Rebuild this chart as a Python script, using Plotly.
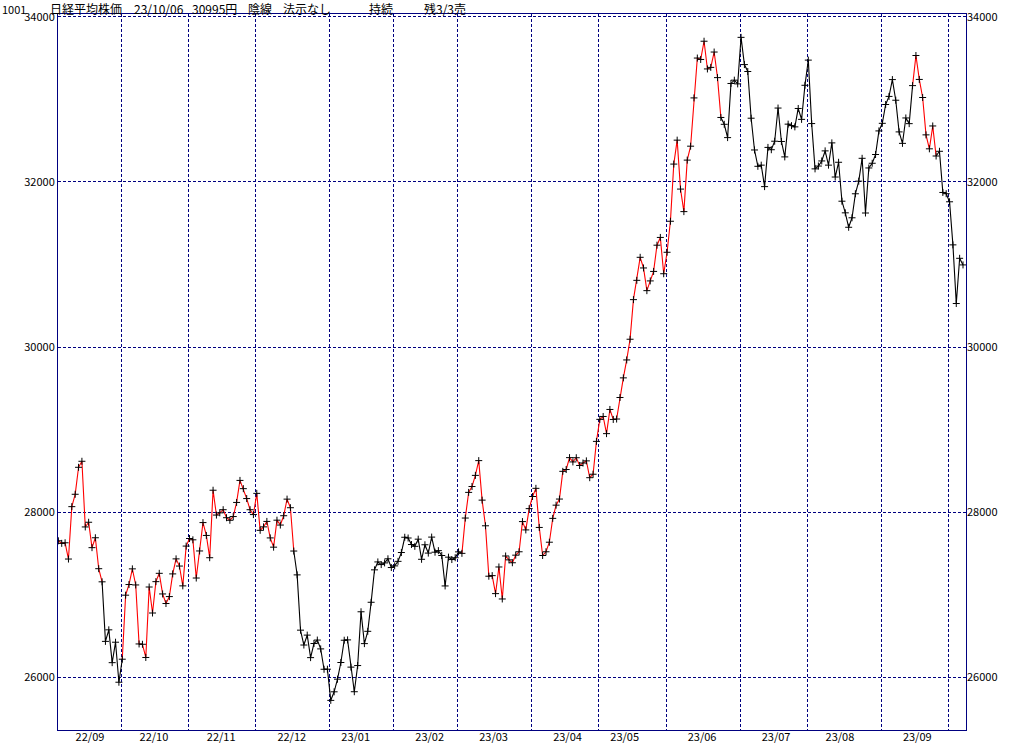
import plotly.graph_objects as go

# ---------------- data ----------------
month_labels = ["22/09", "22/10", "22/11", "22/12", "23/01", "23/02", "23/03",
                "23/04", "23/05", "23/06", "23/07", "23/08", "23/09", "23/10"]

trading_days = [
    [1, 2, 5, 6, 7, 8, 9, 12, 13, 14, 15, 16, 20, 21, 22, 26, 27, 28, 29, 30],
    [3, 4, 5, 6, 7, 11, 12, 13, 14, 17, 18, 19, 20, 21, 24, 25, 26, 27, 28, 31],
    [1, 2, 4, 7, 8, 9, 10, 11, 14, 15, 16, 17, 18, 21, 22, 24, 25, 28, 29, 30],
    [1, 2, 5, 6, 7, 8, 9, 12, 13, 14, 15, 16, 19, 20, 21, 22, 23, 26, 27, 28, 29, 30],
    [4, 5, 6, 10, 11, 12, 13, 16, 17, 18, 19, 20, 23, 24, 25, 26, 27, 30, 31],
    [1, 2, 3, 6, 7, 8, 9, 10, 13, 14, 15, 16, 17, 20, 21, 22, 24, 27, 28],
    [1, 2, 3, 6, 7, 8, 9, 10, 13, 14, 15, 16, 17, 20, 22, 23, 24, 27, 28, 29, 30, 31],
    [3, 4, 5, 6, 7, 10, 11, 12, 13, 14, 17, 18, 19, 20, 21, 24, 25, 26, 27, 28],
    [1, 2, 8, 9, 10, 11, 12, 15, 16, 17, 18, 19, 22, 23, 24, 25, 26, 29, 30, 31],
    [1, 2, 5, 6, 7, 8, 9, 12, 13, 14, 15, 16, 19, 20, 21, 22, 23, 26, 27, 28, 29, 30],
    [3, 4, 5, 6, 7, 10, 11, 12, 13, 14, 18, 19, 20, 21, 24, 25, 26, 27, 28, 31],
    [1, 2, 3, 4, 7, 8, 9, 10, 14, 15, 16, 17, 18, 21, 22, 23, 24, 25, 28, 29, 30, 31],
    [1, 4, 5, 6, 7, 8, 11, 12, 13, 14, 15, 19, 20, 21, 22, 25, 26, 27, 28, 29],
    [2, 3, 4, 5, 6],
]

closes = [
    # 22/09
    27661, 27651, 27620, 27627, 27430, 28065, 28215, 28542, 28615, 27819,
    27876, 27568, 27688, 27313, 27154, 26432, 26572, 26174, 26422, 25937,
    # 22/10
    26216, 26992, 27121, 27311, 27116, 26401, 26397, 26237, 27091, 26776,
    27156, 27257, 27007, 26891, 26975, 27250, 27432, 27345, 27105, 27587,
    # 22/11
    27679, 27663, 27200, 27528, 27872, 27716, 27446, 28264, 27963, 27990,
    28028, 27931, 27900, 27945, 28116, 28383, 28283, 28163, 28028, 27969,
    # 22/12
    28226, 27778, 27820, 27886, 27686, 27574, 27901, 27842, 27955, 28156,
    28052, 27527, 27238, 26568, 26388, 26508, 26235, 26406, 26448, 26341,
    26094, 26095,
    # 23/01
    25717, 25821, 25974, 26176, 26446, 26450, 26120, 25822, 26139, 26791,
    26405, 26554, 26906, 27299, 27395, 27363, 27383, 27433, 27327,
    # 23/02
    27347, 27402, 27509, 27694, 27685, 27606, 27584, 27671, 27427, 27603,
    27502, 27696, 27513, 27532, 27473, 27104, 27453, 27424, 27446,
    # 23/03
    27517, 27499, 27927, 28238, 28309, 28444, 28623, 28144, 27833, 27222,
    27229, 27011, 27334, 26946, 27467, 27420, 27385, 27477, 27518, 27884,
    27783, 28041,
    # 23/04
    28188, 28287, 27813, 27473, 27518, 27634, 27923, 28083, 28157, 28493,
    28515, 28659, 28607, 28658, 28564, 28594, 28620, 28416, 28458, 28856,
    # 23/05
    29123, 29158, 28950, 29243, 29122, 29127, 29388, 29626, 29843, 30094,
    30574, 30808, 31087, 30958, 30683, 30801, 30916, 31234, 31328, 30888,
    # 23/06
    31148, 31524, 32217, 32507, 31914, 31641, 32265, 32434, 33019, 33502,
    33485, 33706, 33370, 33389, 33575, 33265, 32782, 32699, 32538, 33194,
    33234, 33189,
    # 23/07
    33753, 33423, 33339, 32773, 32388, 32190, 32204, 31944, 32419, 32391,
    32494, 32896, 32491, 32304, 32701, 32683, 32668, 32891, 32759, 33172,
    # 23/08
    33477, 32708, 32159, 32193, 32255, 32377, 32204, 32474, 32060, 32239,
    31767, 31626, 31451, 31566, 31857, 32010, 32287, 31624, 32170, 32227,
    32333, 32619,
    # 23/09
    32711, 32939, 33037, 33241, 32991, 32607, 32468, 32776, 32707, 33168,
    33533, 33243, 33024, 32571, 32402, 32679, 32315, 32372, 31873, 31858,
    # 23/10
    31760, 31238, 30527, 31075, 30995,
]

# periods in which the line is drawn in red (segment start dates, inclusive)
red_periods = [("22/09/01", "22/09/21"), ("22/10/03", "22/12/15"),
               ("23/03/02", "23/06/22"), ("23/09/14", "23/09/25")]

y_ticks = [26000, 28000, 30000, 32000, 34000]
y_tick_text = ["26000", "28000", "30000", "32000", "34000"]
y_range = [25358, 34036]

header_texts = ["1001", "日経平均株価", "23/10/06", "30995円", "陰線", "法示なし", "持続", "残3/3売"]
header_px = [0, 48, 132, 190, 246, 281, 367, 422]

# ---------------- derived ----------------
NAVY = "#000080"
dates, day_of_month, month_of = [], [], []
for mi, (m, days) in enumerate(zip(month_labels, trading_days)):
    for d in days:
        dates.append(f"{m}/{d:02d}")
        day_of_month.append(d)
        month_of.append(mi)
idx = list(range(len(closes)))
n = len(closes)

def is_red(date):
    return any(a <= date <= b for a, b in red_periods)

seg_colors = ["red" if is_red(dates[i]) else "black" for i in range(n - 1)]

fig = go.Figure()
start = 0
for i in range(1, n):
    if i == n - 1 or seg_colors[i] != seg_colors[start]:
        end = i
        fig.add_trace(go.Scatter(
            x=idx[start:end + 1], y=closes[start:end + 1], mode="lines",
            line=dict(color=seg_colors[start], width=1.1),
            hoverinfo="skip", showlegend=False))
        start = i

fig.add_trace(go.Scatter(
    x=idx, y=closes, mode="markers", xaxis="x2", yaxis="y2",
    marker=dict(symbol="cross-thin", size=5, line=dict(color="black", width=1), color="black"),
    text=dates, hovertemplate="%{text}: %{y}<extra></extra>", showlegend=False))

boundaries, label_pos, label_txt = [], [], []
for mi, m in enumerate(month_labels):
    ids = [i for i in idx if month_of[i] == mi]
    if mi > 0:
        boundaries.append(ids[0] - 0.25)
    mids = [i for i in ids if day_of_month[i] >= 15]
    if mids:
        label_pos.append(mids[0] + 0.4)
        label_txt.append(m)

x_range = [0.89, 270.89]
FONT = "Noto Sans CJK JP, Noto Sans, sans-serif"

fig.update_layout(
    width=1024, height=745,
    margin=dict(l=58, r=58, t=14, b=15, autoexpand=False),
    paper_bgcolor="white", plot_bgcolor="white",
    showlegend=False,
    font=dict(family=FONT, size=12, color="black"),
    xaxis=dict(range=x_range, tickmode="array", tickvals=label_pos, ticktext=label_txt,
               showgrid=False, zeroline=False, showline=True, mirror=True,
               linecolor=NAVY, linewidth=1, ticks="", tickfont=dict(size=11),
               ticklabelstandoff=-3, automargin=False),
    xaxis2=dict(range=x_range, overlaying="x", anchor="y", tickmode="array",
                tickvals=boundaries, showticklabels=False, showgrid=True,
                gridcolor=NAVY, gridwidth=1, griddash="3px,2px",
                zeroline=False, showline=False, ticks="", automargin=False),
    yaxis=dict(range=y_range, tickmode="array", tickvals=y_ticks, ticktext=y_tick_text,
               showgrid=True, gridcolor=NAVY, gridwidth=1, griddash="3px,2px",
               zeroline=False, showline=True, mirror=True, linecolor=NAVY,
               linewidth=1, ticks="", tickfont=dict(size=11), automargin=False),
    yaxis2=dict(range=y_range, overlaying="y", side="right", anchor="x",
                tickmode="array", tickvals=y_ticks, ticktext=y_tick_text, showgrid=False,
                zeroline=False, showline=False, ticks="", tickfont=dict(size=11),
                automargin=False),
)

for t, px in zip(header_texts, header_px):
    fig.add_annotation(text=t, xref="paper", yref="paper",
                       x=(px - 58) / 908, y=(730 - 8.8) / 716,
                       xanchor="left", yanchor="middle", showarrow=False,
                       font=dict(family=FONT, size=11 if t == "1001" else 12, color="black"))

fig.write_html("out.html", config={"displayModeBar": False},
               post_script="document.body.style.margin='0';document.body.style.overflow='hidden';")
